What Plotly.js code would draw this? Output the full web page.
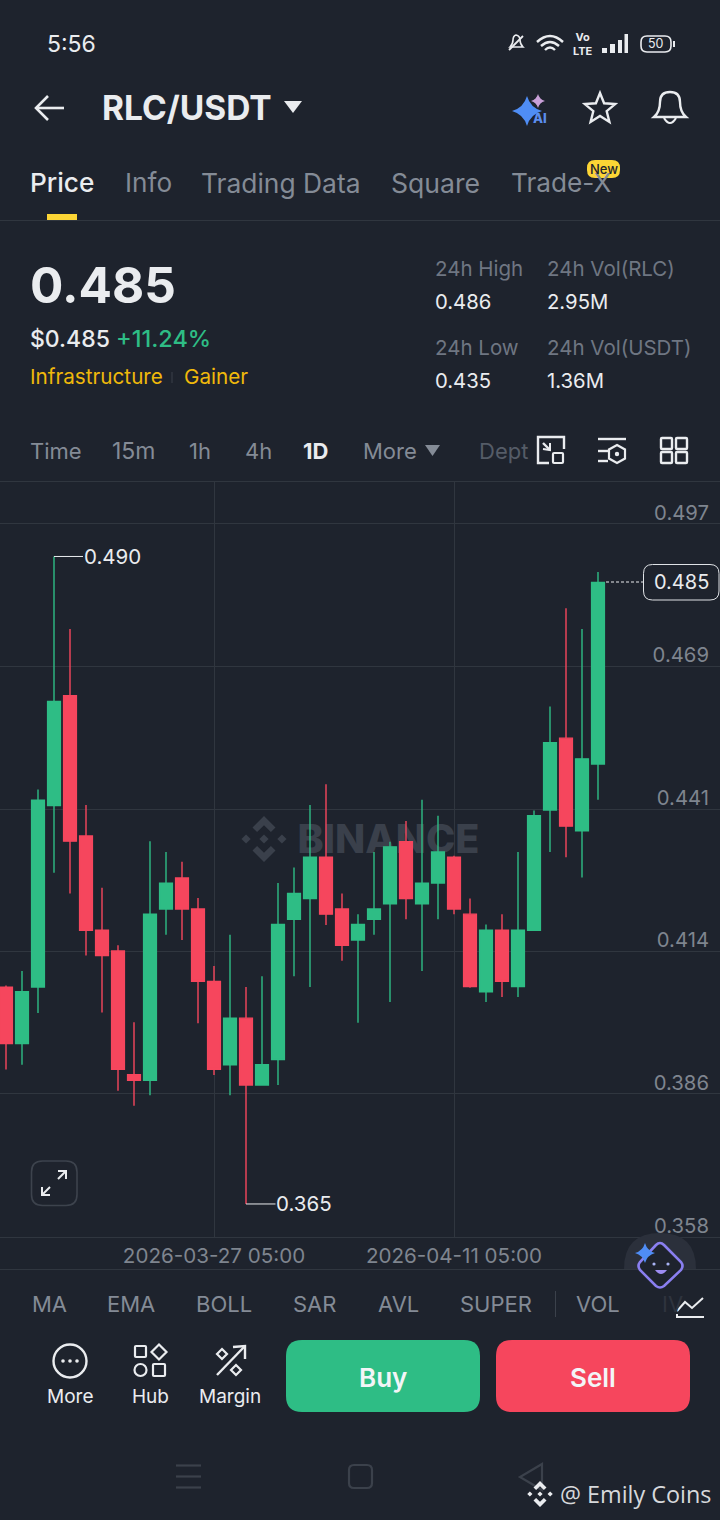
<!DOCTYPE html>
<html>
<head>
<meta charset="utf-8">
<script src="https://cdn.plot.ly/plotly-3.0.1.min.js"></script>
<style>html,body{margin:0;padding:0;background:#1e232d}#c{width:720px;height:1520px}</style>
</head>
<body>
<div id="c"></div>
<script>
const dates = ["2026-03-14 05:00","2026-03-15 05:00","2026-03-16 05:00","2026-03-17 05:00","2026-03-18 05:00","2026-03-19 05:00","2026-03-20 05:00","2026-03-21 05:00","2026-03-22 05:00","2026-03-23 05:00","2026-03-24 05:00","2026-03-25 05:00","2026-03-26 05:00","2026-03-27 05:00","2026-03-28 05:00","2026-03-29 05:00","2026-03-30 05:00","2026-03-31 05:00","2026-04-01 05:00","2026-04-02 05:00","2026-04-03 05:00","2026-04-04 05:00","2026-04-05 05:00","2026-04-06 05:00","2026-04-07 05:00","2026-04-08 05:00","2026-04-09 05:00","2026-04-10 05:00","2026-04-11 05:00","2026-04-12 05:00","2026-04-13 05:00","2026-04-14 05:00","2026-04-15 05:00","2026-04-16 05:00","2026-04-17 05:00","2026-04-18 05:00","2026-04-19 05:00","2026-04-20 05:00"];
const opens  = [.4069,.3960,.4069,.4420,.4632,.4361,.4179,.4139,.3900,.3889,.4220,.4280,.4220,.4080,.3919,.4009,.3880,.3929,.4200,.4240,.4320,.4220,.4160,.4200,.4230,.4350,.4230,.4270,.4320,.4210,.4060,.4179,.4070,.4179,.4411,.4550,.4371,.4500];
const highs  = [.4072,.4100,.4451,.4901,.4761,.4421,.4261,.4150,.4001,.4351,.4330,.4311,.4241,.4110,.4170,.4069,.4090,.4270,.4300,.4421,.4461,.4250,.4210,.4330,.4350,.4390,.4431,.4400,.4323,.4240,.4190,.4210,.4330,.4410,.4611,.4801,.4761,.4871];
const lows   = [.3910,.3919,.4019,.4290,.4250,.4130,.4020,.3869,.3840,.3860,.4170,.4160,.3999,.3899,.3860,.3650,.3880,.3880,.4090,.4069,.4189,.4120,.4000,.4170,.4040,.4200,.4100,.4200,.4210,.4068,.4040,.4050,.4050,.4179,.4330,.4320,.4281,.4431];
const closes = [.3960,.4060,.4430,.4621,.4351,.4179,.4130,.3910,.3889,.4210,.4270,.4220,.4080,.3910,.4009,.3880,.3919,.4190,.4250,.4320,.4210,.4150,.4190,.4220,.4340,.4240,.4270,.4330,.4220,.4070,.4179,.4080,.4179,.4400,.4541,.4380,.4510,.4851];
const gridPrices = [.49638,.46885,.44131,.41378,.38625,.35862];
const priceLabels = ["0.497","0.469","0.441","0.414","0.386","0.358"];
const timeTicks = ["2026-03-27 05:00","2026-04-11 05:00"];

const W=720,H=1520,BG='#1e232d',GRID='#30363f',GRAY='#848b96',WHITE='#eaecef',GREEN='#2ebd85',RED='#f6465d',YEL='#f0b90b',DIM='#3b414b',AXIS='#7f858f';
const FONT='Inter, "Noto Sans", sans-serif';
const px=x=>x/W, py=y=>1-y/H;
const conv=s=>s.replace(/(-?[\d.]+)[ ,]+(-?[\d.]+)/g,(m,a,b)=>px(+a)+' '+py(+b));
const shapes=[], annos=[];
function path(d,o={}){shapes.push({type:'path',xref:'paper',yref:'paper',path:conv(d),layer:o.layer||'above',
  fillcolor:o.fill||'rgba(0,0,0,0)',line:{color:o.stroke||'rgba(0,0,0,0)',width:o.sw===undefined?(o.stroke?2.2:0):o.sw,dash:o.dash||'solid'}});}
function rr(x0,y0,x1,y1,r){return `M${x0+r} ${y0} L${x1-r} ${y0} Q${x1} ${y0} ${x1} ${y0+r} L${x1} ${y1-r} Q${x1} ${y1} ${x1-r} ${y1} L${x0+r} ${y1} Q${x0} ${y1} ${x0} ${y1-r} L${x0} ${y0+r} Q${x0} ${y0} ${x0+r} ${y0} Z`;}
function circ(cx,cy,r,o={}){shapes.push({type:'circle',xref:'paper',yref:'paper',layer:o.layer||'above',x0:px(cx-r),x1:px(cx+r),y0:py(cy+r),y1:py(cy-r),
  fillcolor:o.fill||'rgba(0,0,0,0)',line:{color:o.stroke||'rgba(0,0,0,0)',width:o.stroke?(o.sw||2.2):0}});}
function hline(x0,x1,y,c,w){path(`M${x0} ${y} L${x1} ${y}`,{stroke:c,sw:w||1});}
function T(text,x,y,size,color,o={}){const a=o.a||'left';annos.push({xref:'paper',yref:'paper',x:px(a==='left'?x-1.5:x),y:py(y),text,showarrow:false,xanchor:a,yanchor:'middle',borderpad:0,
  font:{family:o.family||FONT,size,color,weight:o.w||400}});}
function star4(cx,cy,r,fill){const k=r*0.22;path(`M${cx} ${cy-r} Q${cx+k} ${cy-k} ${cx+r} ${cy} Q${cx+k} ${cy+k} ${cx} ${cy+r} Q${cx-k} ${cy+k} ${cx-r} ${cy} Q${cx-k} ${cy-k} ${cx} ${cy-r} Z`,{fill});}
function diamond(cx,cy,r,o){path(`M${cx} ${cy-r} L${cx+r} ${cy} L${cx} ${cy+r} L${cx-r} ${cy} Z`,o);}
function bnb(cx,cy,s,c,layer){const o={fill:c,layer};
  diamond(cx,cy,s*.2,o);diamond(cx-s*.78,cy,s*.2,o);diamond(cx+s*.78,cy,s*.2,o);
  path(`M${cx} ${cy-s} L${cx+s*.5} ${cy-s*.5} L${cx+s*.3} ${cy-s*.3} L${cx} ${cy-s*.6} L${cx-s*.3} ${cy-s*.3} L${cx-s*.5} ${cy-s*.5} Z`,o);
  path(`M${cx} ${cy+s} L${cx+s*.5} ${cy+s*.5} L${cx+s*.3} ${cy+s*.3} L${cx} ${cy+s*.6} L${cx-s*.3} ${cy+s*.3} L${cx-s*.5} ${cy+s*.5} Z`,o);}

/* status bar */
T('5:56',47,44,23,WHITE);
path('M509 50 L523 36',{stroke:WHITE,sw:1.8});
path('M510 47 Q513 44 513 40 Q513 36 516 35 Q520 36 520 40 Q520 44 523 47 Z',{stroke:WHITE,sw:1.6});
path('M537 42 Q550 30 563 42',{stroke:WHITE,sw:2.4});path('M541 46 Q550 38 559 46',{stroke:WHITE,sw:2.4});path('M545 50 Q550 45 555 50',{stroke:WHITE,sw:2.4});
T('Vo<br>LTE',583,44,11,WHITE,{a:'center',w:700});
path('M602 48 L607 48 L607 53 L602 53 Z',{fill:WHITE});path('M610 44 L615 44 L615 53 L610 53 Z',{fill:WHITE});path('M618 40 L622 40 L622 53 L618 53 Z',{fill:WHITE});path('M624.5 34 L628 34 L628 53 L624.5 53 Z',{fill:WHITE});
path(rr(641,36,671,52,6),{stroke:WHITE,sw:1.6});path('M673 41 L675 41 L675 47 L673 47 Z',{fill:WHITE});
T('50',656,44,12.5,WHITE,{a:'center'});

/* header */
path('M36 108 L64 108',{stroke:WHITE,sw:2.6});path('M48 96 L36 108 L48 120',{stroke:WHITE,sw:2.6});
T('RLC/USDT',102,108,33.5,WHITE,{w:700});
path('M284 101 L302 101 L293 113 Z',{fill:WHITE});
star4(527,111,15,'#4f8df5');star4(538,101,7,'#c9a0d8');
T('AI',540,118,13,'#5b8def',{a:'center',w:800});
(function(){let d='',cx=600,cy=109,R=16,r=7;for(let i=0;i<10;i++){const a=-Math.PI/2+i*Math.PI/5,q=i%2?r:R;d+=(i?'L':'M')+(cx+q*Math.cos(a)).toFixed(1)+' '+(cy+q*Math.sin(a)).toFixed(1)+' ';}path(d+'Z',{stroke:WHITE,sw:2.4});})();
path('M654 117 Q660 112 660 102 Q660 92 670 92 Q680 92 680 102 Q680 112 686 117 Z',{stroke:WHITE,sw:2.4});
path('M664 118 Q670 128 676 118',{stroke:WHITE,sw:2.2});

/* tabs */
T('Price',30,183,26.2,WHITE,{w:500});T('Info',125,183,26.2,GRAY);T('Trading Data',201,183,26.4,GRAY);T('Square',391,183,26.6,GRAY);T('Trade-X',511.5,183,26.2,GRAY);
path('M47 214 L77 214 L77 220 L47 220 Z',{fill:'#fcd535'});
hline(0,720,220.5,GRID,1);
path(rr(587,160,620,178,8),{fill:'#fcd535'});
T('New',603.5,169,13,'#1e232d',{a:'center',w:500});

/* price block */
T('0.485',30,285,49.5,WHITE,{w:700});
T('$0.485',30,339,23,WHITE,{w:500});
T('+11.24%',116,339,23.5,GREEN,{w:500});
T('Infrastructure',30,377,20.7,YEL);
path('M172 372 L172 383',{stroke:DIM,sw:1});
T('Gainer',184,377,20.7,YEL);
T('24h High',435,269,20.5,'#6f7682');T('0.486',435,301,20.3,WHITE);
T('24h Vol(RLC)',547,269,20.5,'#6f7682');T('2.95M',547,301,20.3,WHITE);
T('24h Low',435,348,20.5,'#6f7682');T('0.435',435,380,20.3,WHITE);
T('24h Vol(USDT)',547,348,20.5,'#6f7682');T('1.36M',547,380,20.3,WHITE);

/* interval row */
T('Time',30,451,22,GRAY);T('15m',112,451,23,GRAY);T('1h',189,451,22,GRAY);T('4h',245,451,22,GRAY);T('1D',303,451,22,WHITE,{w:700});T('More',363,451,22,GRAY);
path('M425 445 L440 445 L432.5 456 Z',{fill:GRAY});
T('Dept',479,451,22,'#555c67');
path('M553 437 L538 437 L538 463 L549 463',{stroke:WHITE,sw:2.4});path('M553 437 L564 437 L564 449',{stroke:WHITE,sw:2.4});
path('M543 443 L550 450',{stroke:WHITE,sw:2.4});path('M543 449 L550 450 L550 443',{stroke:WHITE,sw:2});
path(rr(553,453,563,463,1),{stroke:WHITE,sw:2.2});
hline(598,626,439,WHITE,2.4);hline(598,608,451,WHITE,2.4);hline(598,608,461,WHITE,2.4);
path('M617 445 L625 449.5 L625 458.5 L617 463 L609 458.5 L609 449.5 Z',{stroke:WHITE,sw:2.2});circ(617,454,2.2,{fill:WHITE});
[[661,438],[676,438],[661,452],[676,452]].forEach(p=>path(rr(p[0],p[1],p[0]+11,p[1]+11,1),{stroke:WHITE,sw:2.4}));
hline(0,720,481.5,GRID,1);

/* chart frame */
hline(0,720,1269.5,GRID,1);

/* watermark, below candles */
bnb(264,839,23,'#3a404b','below');
shapes.push({type:'rect',xref:'paper',yref:'paper',layer:'below',x0:px(296),x1:px(481),y0:py(858),y1:py(816),line:{width:0},fillcolor:'rgba(0,0,0,0)',
  label:{text:'BINANCE',textposition:'middle center',font:{family:FONT,size:39.5,color:'#3a404b',weight:800}}});

/* last price */
path('M606 582 L643 582',{stroke:WHITE,sw:1,dash:'3px,2px'});
path(rr(643.5,564.5,719,600,9),{stroke:'#dfe2e6',sw:1,fill:BG});
T('0.485',681,582,20,WHITE,{a:'center'});

/* expand button */
path(rr(31.5,1161,77,1205.5,11),{stroke:'#3d434d',sw:1.6});
path('M42 1195 L50 1187',{stroke:WHITE,sw:2});path('M42 1187 L42 1195 L50 1195',{stroke:WHITE,sw:2});
path('M58 1179 L66 1171',{stroke:WHITE,sw:2});path('M58 1171 L66 1171 L66 1179',{stroke:WHITE,sw:2});

/* indicator row */
[['MA',32],['EMA',107],['BOLL',196],['SAR',293],['AVL',378],['SUPER',461],['VOL',576]].forEach(r=>T(r[0],r[1],1304,22,GRAY));
T('IV',662,1304,22,'#2f343e');
path('M555.5 1291 L555.5 1317',{stroke:DIM,sw:1});
path('M677 1314 L677 1317 L704 1317',{stroke:WHITE,sw:2});path('M677 1311 L685 1302 L692 1308 L703 1298',{stroke:WHITE,sw:2});

/* floating assistant */
path('M624 1269 Q624 1233 660 1233 Q696 1233 696 1269 Z',{fill:'#2b303b'});
path('M660 1243 Q662 1243 664 1245 L681 1262 Q684 1266 681 1270 L664 1286 Q660 1289 656 1286 L640 1270 Q637 1266 640 1262 L656 1245 Q658 1243 660 1243 Z',{stroke:'#8a7ff0',sw:2.6,fill:BG});
star4(645,1253,10,'#4f8df5');
circ(654,1264,1.6,{fill:'#a9b4f5'});circ(668,1264,1.6,{fill:'#a9b4f5'});
path('M655 1270 Q661 1278 667 1270',{fill:'#9d8cf2'});

/* bottom actions */
circ(70,1361,16.5,{stroke:WHITE,sw:2.4});circ(63,1361,1.8,{fill:WHITE});circ(70,1361,1.8,{fill:WHITE});circ(77,1361,1.8,{fill:WHITE});
T('More',70,1396,19,WHITE,{a:'center'});
path(rr(135,1346,146,1357,1),{stroke:WHITE,sw:2.2});diamond(159,1352,7.5,{stroke:WHITE,sw:2.2});circ(140.5,1370,6,{stroke:WHITE,sw:2.2});path(rr(153,1364,165,1376,1),{stroke:WHITE,sw:2.2});
T('Hub',150,1396,19,WHITE,{a:'center'});
path('M217 1375 L244 1347',{stroke:WHITE,sw:2.4});path('M233 1347 L245 1346 L245 1359',{stroke:WHITE,sw:2.4});
diamond(222,1354,5,{stroke:WHITE,sw:2.2});diamond(236,1370,5,{stroke:WHITE,sw:2.2});
T('Margin',230,1396,19,WHITE,{a:'center'});
path(rr(286,1340,480,1412,16),{fill:GREEN});T('Buy',383,1377,26,'#f3f5f7',{a:'center',w:600});
path(rr(496,1340,690,1412,16),{fill:RED});T('Sell',593,1377,26,'#f3f5f7',{a:'center',w:600});

/* nav bar */
hline(176,201,1465.5,DIM,2.2);hline(176,201,1476.5,DIM,2.2);hline(176,201,1487.5,DIM,2.2);
path(rr(349,1465,372,1488,5),{stroke:DIM,sw:2.2});
path('M542 1464 L520 1477 L542 1490 Z',{stroke:DIM,sw:2.2});

/* credit */
bnb(540,1494,13,WHITE);
T('@ Emily Coins',560,1494,23.4,'#d6d8db',{family:'"Open Sans", sans-serif'});

/* min/max leaders */
annos.push({xref:'x',yref:'y',x:dates[3],y:highs[3],text:'0.490',ax:58,ay:0,showarrow:true,arrowhead:0,arrowwidth:1,arrowcolor:'#eaecef',startstandoff:0,standoff:0,borderpad:0,font:{family:FONT,size:20.5,color:WHITE}});
annos.push({xref:'x',yref:'y',x:dates[15],y:lows[15],text:'0.365',ax:58,ay:0,showarrow:true,arrowhead:0,arrowwidth:1,arrowcolor:'#eaecef',startstandoff:0,standoff:0,borderpad:0,font:{family:FONT,size:20.5,color:WHITE}});

const trace={type:'candlestick',x:dates,open:opens,high:highs,low:lows,close:closes,whiskerwidth:0,
  increasing:{line:{color:GREEN,width:1.4},fillcolor:GREEN},
  decreasing:{line:{color:RED,width:1.4},fillcolor:RED},hoverinfo:'skip',showlegend:false};

const layout={width:W,height:H,margin:{l:0,r:0,t:0,b:0,pad:0},paper_bgcolor:BG,plot_bgcolor:BG,showlegend:false,
  boxmode:'overlay',boxgap:0.2,boxgroupgap:0,
  xaxis:{type:'date',domain:[0,1],range:['2026-03-13 20:00','2026-04-27 20:00'],rangeslider:{visible:false},fixedrange:true,
    tickmode:'array',tickvals:timeTicks,ticktext:timeTicks,tickfont:{family:FONT,size:20.6,color:AXIS},ticks:'',ticklen:0,ticklabelstandoff:0,
    showgrid:true,gridcolor:GRID,gridwidth:1,zeroline:false,showline:true,linecolor:GRID,linewidth:1},
  yaxis:{domain:[1-1237/H,1-482/H],range:[.35862,.50449],side:'right',fixedrange:true,tickmode:'array',tickvals:gridPrices,ticktext:priceLabels,
    ticklabelposition:'inside top',ticklabelstandoff:8,ticklabelshift:3,ticklabeloverflow:'allow',tickfont:{family:FONT,size:20.3,color:AXIS},ticks:'',
    showgrid:true,gridcolor:GRID,gridwidth:1,zeroline:false,showline:false},
  shapes,annotations:annos,hovermode:false};
Plotly.newPlot('c',[trace],layout,{displayModeBar:false,staticPlot:true,responsive:false});
</script>
</body>
</html>
